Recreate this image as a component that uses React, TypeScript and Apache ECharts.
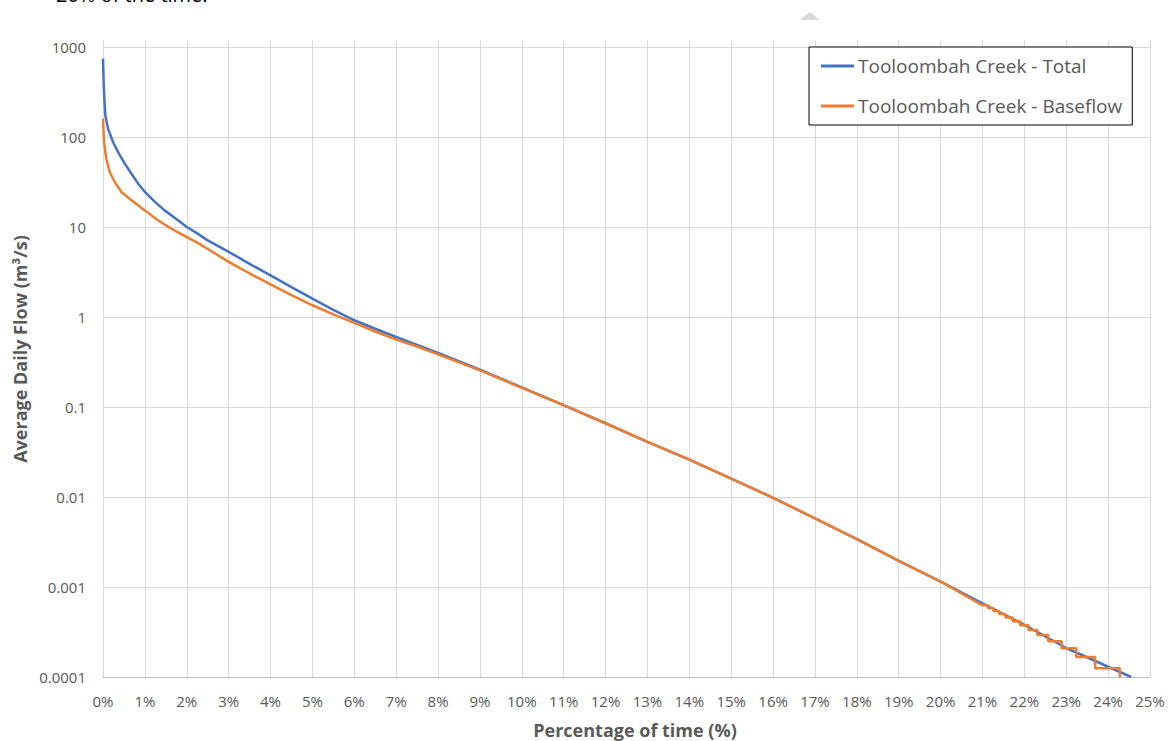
import React, { useEffect, useRef } from "react";
import * as echarts from "echarts";

// ---- Data ----
const seriesNames = ["Tooloombah Creek - Total", "Tooloombah Creek - Baseflow"];

// Total flow: percentage of time (%) -> average daily flow (m3/s)
const totalPct = [0, 0.02, 0.055, 0.12, 0.24, 0.36, 0.52, 0.68, 0.84, 1, 1.24, 1.47, 1.79, 2, 2.23, 2.5, 3, 3.5, 4, 4.5, 5, 5.5, 6, 6.5, 7, 7.5, 8, 9, 10, 11, 12, 13, 14, 15, 16, 17, 18, 19, 20, 21, 22, 23, 24, 24.55];
const totalFlow = [743, 345, 174, 124, 88, 68, 50.6, 39, 30.3, 24.5, 19, 15.3, 11.9, 10.0, 8.6, 7.1, 5.3, 3.9, 2.9, 2.15, 1.6, 1.2, 0.92, 0.74, 0.6, 0.49, 0.4, 0.26, 0.165, 0.105, 0.066, 0.041, 0.026, 0.016, 0.0098, 0.0058, 0.0034, 0.00195, 0.00115, 0.00066, 0.00038, 0.00021, 0.00013, 0.0001];

// Baseflow (continuous part)
const basePct = [0, 0.024, 0.08, 0.16, 0.28, 0.44, 0.68, 1, 1.31, 1.63, 2, 2.23, 2.5, 3, 3.5, 4, 4.5, 5, 5.5, 6, 6.5, 7, 7.5, 8, 9, 10, 11, 12, 13, 14, 15, 16, 17, 18, 19, 20, 21];
const baseFlow = [160, 88, 57, 40.8, 31.6, 24.5, 19.8, 15.3, 11.9, 9.6, 7.7, 6.8, 5.7, 4.1, 3.05, 2.3, 1.75, 1.35, 1.07, 0.86, 0.69, 0.56, 0.47, 0.385, 0.255, 0.163, 0.104, 0.066, 0.041, 0.026, 0.016, 0.0098, 0.0058, 0.0034, 0.00195, 0.00115, 0.000625];

// Baseflow tail: quantised values, each held between consecutive edges
const baseStepEdges = [21.0, 21.13, 21.26, 21.4, 21.55, 21.72, 21.9, 22.1, 22.31, 22.57, 22.89, 23.24, 23.69, 24.28];
const baseStepValues = [0.000625, 0.000583, 0.000542, 0.0005, 0.000458, 0.000417, 0.000375, 0.000333, 0.000292, 0.00025, 0.000208, 0.000167, 0.000125];
const baseStepFloor = 0.0001;

// Axes
const xMin = 0;
const xMax = 25;
const yMin = 0.0001;
const yMax = 1000;

const BLUE = "#4472C4";
const ORANGE = "#ED7D31";
const GRID = "#d9d9d9";
const TEXT = "#595959";
const FONT = "'Open Sans', 'Noto Sans', sans-serif";

function fmtLog(v: number): string {
  const e = Math.round(Math.log10(v));
  if (e >= 0) return String(Math.pow(10, e));
  return Math.pow(10, e).toFixed(-e);
}

export default function App() {
  const ref = useRef<HTMLDivElement>(null);

  useEffect(() => {
    if (!ref.current) return;
    const chart = echarts.init(ref.current, undefined, { renderer: "svg" });

    const totalData = totalPct.map((p, i) => [p, totalFlow[i]]);
    const baseData = basePct.map((p, i) => [p, baseFlow[i]]);
    const stepData: number[][] = [];
    baseStepValues.forEach((v, i) => {
      stepData.push([baseStepEdges[i], v]);
      stepData.push([baseStepEdges[i + 1], v]);
    });
    stepData.push([baseStepEdges[baseStepEdges.length - 1], baseStepFloor]);

    chart.setOption({
      animation: false,
      backgroundColor: "#ffffff",
      textStyle: { fontFamily: FONT },
      grid: [
        { left: 103, right: 22, top: 47, bottom: 64, containLabel: false },
        { left: 103, right: 22, top: 40, bottom: 64, containLabel: false },
      ],
      xAxis: [
        {
          type: "value",
          gridIndex: 0,
          min: xMin,
          max: xMax,
          interval: 1,
          axisLine: { show: true, lineStyle: { color: "#bfbfbf", width: 1 } },
          axisTick: { show: false },
          splitLine: { show: false },
          axisLabel: {
            color: TEXT,
            fontSize: 15,
            fontFamily: FONT,
            margin: 16,
            formatter: (v: number) => `${v}%`,
          },
        },
        {
          type: "value",
          gridIndex: 1,
          min: xMin,
          max: xMax,
          interval: 1,
          axisLine: { show: false },
          axisTick: { show: false },
          axisLabel: { show: false },
          splitLine: { show: true, lineStyle: { color: GRID, width: 1 } },
        },
      ],
      yAxis: [
        {
          type: "log",
          logBase: 10,
          gridIndex: 0,
          min: yMin,
          max: yMax,
          axisLine: { show: false },
          axisTick: { show: false },
          splitLine: { show: true, lineStyle: { color: GRID, width: 1 } },
          axisLabel: {
            color: TEXT,
            fontSize: 15,
            fontFamily: FONT,
            margin: 17,
            formatter: (v: number) => fmtLog(v),
          },
        },
        {
          type: "value",
          gridIndex: 1,
          show: false,
          min: 0,
          max: 1,
        },
      ],
      legend: {
        data: seriesNames,
        orient: "vertical",
        left: 809,
        top: 47,
        padding: [8, 10, 8, 12],
        itemGap: 18,
        itemWidth: 33,
        itemHeight: 3,
        icon: "rect",
        backgroundColor: "#ffffff",
        borderColor: "#000000",
        borderWidth: 1,
        borderRadius: 0,
        textStyle: { color: TEXT, fontSize: 19, fontFamily: FONT, lineHeight: 22, padding: [0, 0, 0, -1] },
      },
      series: [
        {
          name: seriesNames[0],
          type: "line",
          xAxisIndex: 0,
          yAxisIndex: 0,
          data: totalData,
          symbol: "none",
          showSymbol: false,
          smooth: false,
          lineStyle: { color: BLUE, width: 2.5 },
          itemStyle: { color: BLUE },
        },
        {
          name: seriesNames[1],
          type: "line",
          xAxisIndex: 0,
          yAxisIndex: 0,
          data: baseData,
          symbol: "none",
          showSymbol: false,
          smooth: false,
          lineStyle: { color: ORANGE, width: 2.5 },
          itemStyle: { color: ORANGE },
        },
        {
          name: seriesNames[1],
          type: "line",
          xAxisIndex: 0,
          yAxisIndex: 0,
          data: stepData,
          symbol: "none",
          showSymbol: false,
          smooth: false,
          lineStyle: { color: ORANGE, width: 2.5 },
          itemStyle: { color: ORANGE },
        },
      ],
      graphic: [
        {
          type: "text",
          left: 56,
          top: -16,
          style: {
            text: "20% of the time.",
            fill: "#000000",
            font: `20px ${FONT}`,
          },
          silent: true,
        },
        {
          type: "polygon",
          shape: { points: [[800, 20], [810, 12], [820, 20]] },
          style: { fill: "#d9d9d9" },
          silent: true,
        },
        {
          type: "text",
          x: 635,
          y: 730,
          style: {
            text: "Percentage of time (%)",
            fill: TEXT,
            font: `bold 18px ${FONT}`,
            align: "center",
            verticalAlign: "middle",
          },
          silent: true,
        },
        {
          type: "text",
          x: 20,
          y: 349,
          rotation: Math.PI / 2,
          style: {
            text: "Average Daily Flow (m³/s)",
            fill: TEXT,
            font: `bold 18px ${FONT}`,
            align: "center",
            verticalAlign: "middle",
          },
          silent: true,
        },
      ],
    });

    return () => chart.dispose();
  }, []);

  return (
    <div
      ref={ref}
      style={{ position: "fixed", left: 0, top: 0, width: 1172, height: 741 }}
    />
  );
}
